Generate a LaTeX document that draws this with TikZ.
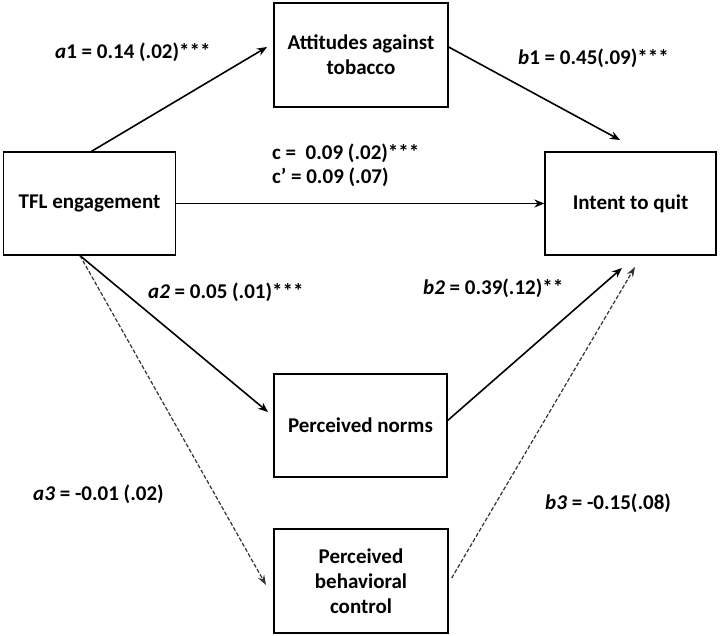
\documentclass[tikz,border=0pt]{standalone}
\usepackage{fontspec}
\setmainfont{Carlito}
\usetikzlibrary{arrows.meta}
\begin{document}
\begin{tikzpicture}[x=1pt,y=-1pt,
  box/.style={draw=black,line width=1.3pt,align=center,font=\fontsize{21}{25}\selectfont\bfseries,inner sep=0pt},
  lbl/.style={font=\fontsize{21}{24}\selectfont\bfseries,inner sep=0pt,anchor=west,align=left},
  solidarr/.style={line width=1.6pt,-{Stealth[length=10pt,width=8pt]}},
  dasharr/.style={line width=1.2pt,draw=black!80,dash pattern=on 4pt off 2pt,-{Stealth[length=10pt,width=7pt]}}]
\useasboundingbox (0,0) rectangle (720,636);
\node[box,minimum width=174pt,minimum height=104pt] (att) at (361,55) {Attitudes against\\tobacco};
\node[box,minimum width=172pt,minimum height=103pt] (tfl) at (89.5,203.5) {TFL engagement};
\node[box,minimum width=171pt,minimum height=103pt] (int) at (630.5,203.5) {Intent to quit};
\node[box,minimum width=173pt,minimum height=103pt] (norms) at (360.5,425.5) {Perceived norms};
\node[box,minimum width=174pt,minimum height=104pt] (pbc) at (361,581) {Perceived\\behavioral\\control};
\coordinate (a1e) at (267,47);
\coordinate (b1e) at (620,140);
\coordinate (a2e) at (268,412);
\coordinate (a3e) at (266,585);
\coordinate (b2e) at (622,268);
\coordinate (b3e) at (635,267);
\draw[solidarr] ([xshift=2pt]tfl.north) -- (a1e);
\draw[solidarr] ([yshift=8pt]att.east) -- (b1e);
\draw[solidarr] (tfl.east) -- (int.west);
\draw[solidarr] ([xshift=-9.5pt]tfl.south) -- (a2e);
\draw[dasharr] ([xshift=-9.5pt]tfl.south) -- (a3e);
\draw[solidarr] ([yshift=5pt]norms.east) -- (b2e);
\draw[dasharr] ([xshift=3pt,yshift=3pt]pbc.east) -- (b3e);
\node[lbl] (la1) at (55,52) {\textit{a}1 = 0.14 (.02)***};
\node[lbl] (lb1) at (518,58) {\textit{b}1 = 0.45(.09)***};
\node[lbl] (lc) at (272,165) {c =\ \ 0.09 (.02)***\\c’ = 0.09 (.07)};
\node[lbl] (la2) at (148,292) {\textit{a2} = 0.05 (.01)***};
\node[lbl] (lb2) at (423,288) {\textit{b2} = 0.39(.12)**};
\node[lbl] (la3) at (33,494) {\textit{a3} = -0.01 (.02)};
\node[lbl] (lb3) at (545,503) {\textit{b3} = -0.15(.08)};
\end{tikzpicture}
\end{document}
